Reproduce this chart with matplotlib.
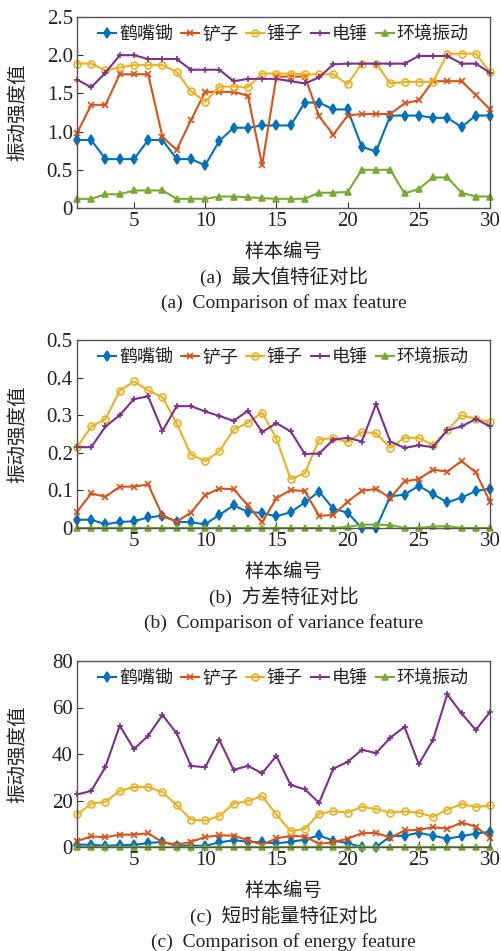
import matplotlib
matplotlib.use("Agg")
import matplotlib.pyplot as plt
import numpy as np

plt.rcParams['font.family'] = ['Liberation Serif', 'Noto Sans CJK SC', 'DejaVu Sans']
plt.rcParams['axes.unicode_minus'] = False

samples = list(range(1, 31))
series_names = ["鹤嘴锄", "铲子", "锤子", "电锤", "环境振动"]

# (a) max feature
max_hoe = [0.89, 0.89, 0.64, 0.64, 0.64, 0.89, 0.89, 0.64, 0.64, 0.56,
           0.88, 1.05, 1.05, 1.08, 1.08, 1.08, 1.38, 1.38, 1.29, 1.29,
           0.80, 0.74, 1.21, 1.21, 1.21, 1.18, 1.18, 1.06, 1.21, 1.21]
max_shovel = [0.98, 1.35, 1.35, 1.75, 1.75, 1.75, 0.93, 0.76, 1.15, 1.52,
              1.52, 1.52, 1.47, 0.56, 1.72, 1.72, 1.72, 1.20, 0.96, 1.21,
              1.23, 1.23, 1.23, 1.37, 1.41, 1.66, 1.66, 1.66, 1.48, 1.29]
max_hammer = [1.89, 1.89, 1.80, 1.84, 1.87, 1.87, 1.87, 1.78, 1.53, 1.39,
              1.59, 1.59, 1.58, 1.76, 1.76, 1.76, 1.75, 1.75, 1.75, 1.62,
              1.89, 1.89, 1.63, 1.65, 1.65, 1.65, 2.02, 2.02, 2.02, 1.78]
max_drill = [1.68, 1.58, 1.77, 2.00, 2.00, 1.95, 1.95, 1.95, 1.81, 1.81,
             1.81, 1.66, 1.69, 1.69, 1.69, 1.66, 1.63, 1.71, 1.88, 1.89,
             1.89, 1.89, 1.89, 1.89, 1.99, 1.99, 1.99, 1.89, 1.89, 1.77]
max_env = [0.12, 0.12, 0.18, 0.18, 0.23, 0.23, 0.23, 0.12, 0.12, 0.12,
           0.15, 0.15, 0.14, 0.13, 0.12, 0.12, 0.12, 0.20, 0.20, 0.21,
           0.50, 0.50, 0.50, 0.19, 0.25, 0.40, 0.40, 0.20, 0.15, 0.15]

# (b) variance feature
var_hoe = [0.022, 0.022, 0.010, 0.016, 0.018, 0.028, 0.033, 0.017, 0.015, 0.010,
           0.035, 0.060, 0.043, 0.040, 0.031, 0.042, 0.068, 0.097, 0.051, 0.041,
           0.000, 0.000, 0.084, 0.089, 0.112, 0.090, 0.068, 0.081, 0.098, 0.105]
var_shovel = [0.043, 0.092, 0.083, 0.110, 0.110, 0.116, 0.032, 0.017, 0.041, 0.087,
              0.105, 0.103, 0.060, 0.015, 0.079, 0.101, 0.098, 0.032, 0.035, 0.070,
              0.099, 0.104, 0.080, 0.124, 0.130, 0.155, 0.150, 0.178, 0.148, 0.070]
var_hammer = [0.215, 0.270, 0.290, 0.365, 0.390, 0.366, 0.348, 0.278, 0.195, 0.178,
              0.204, 0.262, 0.280, 0.307, 0.238, 0.130, 0.145, 0.235, 0.240, 0.228,
              0.255, 0.252, 0.213, 0.240, 0.240, 0.220, 0.260, 0.300, 0.290, 0.282]
var_drill = [0.215, 0.215, 0.270, 0.300, 0.343, 0.350, 0.258, 0.324, 0.324, 0.310,
             0.298, 0.285, 0.312, 0.255, 0.279, 0.257, 0.197, 0.198, 0.235, 0.240,
             0.230, 0.330, 0.230, 0.213, 0.220, 0.215, 0.260, 0.270, 0.290, 0.270]
var_env = [0.0, 0.0, 0.0, 0.0, 0.0, 0.0, 0.0, 0.0, 0.0, 0.0,
           0.0, 0.0, 0.0, 0.0, 0.0, 0.0, 0.0, 0.0, 0.0, 0.003,
           0.009, 0.009, 0.008, 0.0, 0.0, 0.004, 0.005, 0.0, 0.0, 0.0]

# (c) short-time energy feature
en_hoe = [1.0, 1.0, 0.5, 0.8, 0.9, 1.7, 2.2, 0.6, 0.6, 0.5,
          2.0, 2.9, 2.3, 2.0, 1.6, 2.2, 3.2, 5.0, 2.7, 1.7,
          0.0, 0.0, 4.6, 4.9, 6.1, 4.9, 3.6, 4.6, 5.8, 6.5]
en_shovel = [2.5, 4.6, 4.2, 5.3, 5.3, 5.9, 2.0, 1.0, 2.2, 4.3,
             5.0, 4.9, 2.9, 1.0, 3.7, 4.8, 4.5, 1.4, 2.0, 3.6,
             5.9, 6.1, 4.0, 7.1, 7.4, 8.5, 7.9, 10.5, 8.8, 4.0]
en_hammer = [14.0, 18.6, 19.5, 24.1, 25.8, 25.8, 23.6, 18.0, 11.8, 11.4,
             13.3, 18.7, 19.7, 21.9, 14.0, 6.8, 7.8, 14.3, 15.4, 14.8,
             17.3, 16.3, 14.8, 15.3, 14.7, 13.0, 16.0, 18.5, 17.2, 17.9]
en_drill = [22.6, 24.1, 34.5, 52.2, 42.1, 47.9, 56.8, 48.9, 34.9, 34.3,
            46.0, 33.2, 34.9, 31.7, 39.2, 26.7, 24.8, 19.0, 33.7, 36.6,
            41.8, 40.4, 47.0, 51.7, 35.6, 46.1, 65.7, 57.5, 50.3, 58.1]
en_env = [0.1] * 30

panels = [
    dict(data=[max_hoe, max_shovel, max_hammer, max_drill, max_env],
         ylim=(0, 2.5), yticks=[0, 0.5, 1.0, 1.5, 2.0, 2.5],
         yticklabels=["0", "0.5", "1.0", "1.5", "2.0", "2.5"],
         cap_cn="(a)  最大值特征对比", cap_en="(a)  Comparison of max feature",
         rect=(77, 17, 490, 208)),
    dict(data=[var_hoe, var_shovel, var_hammer, var_drill, var_env],
         ylim=(0, 0.5), yticks=[0, 0.1, 0.2, 0.3, 0.4, 0.5],
         yticklabels=["0", "0.1", "0.2", "0.3", "0.4", "0.5"],
         cap_cn="(b)  方差特征对比", cap_en="(b)  Comparison of variance feature",
         rect=(77, 340, 490, 528)),
    dict(data=[en_hoe, en_shovel, en_hammer, en_drill, en_env],
         ylim=(0, 80), yticks=[0, 20, 40, 60, 80],
         yticklabels=["0", "20", "40", "60", "80"],
         cap_cn="(c)  短时能量特征对比", cap_en="(c)  Comparison of energy feature",
         rect=(77, 661, 490, 847)),
]

colors = ["#0072BD", "#D95319", "#EDB120", "#7E2F8E", "#77AC30"]
markers = ["d", "x", "o", "+", "^"]
msizes = [5, 4, 5, 5, 5]
mfcs = [None, None, "none", None, None]

W, H = 501, 951
fig = plt.figure(figsize=(W / 100, H / 100), dpi=100)
FS = 14

for p in panels:
    l, t, r, b = p["rect"]
    ax = fig.add_axes([l / W, 1 - b / H, (r - l) / W, (b - t) / H])
    for name, vals, c, m, ms, mfc in zip(series_names, p["data"], colors, markers, msizes, mfcs):
        kw = dict(color=c, marker=m, markersize=ms, linewidth=1.5, label=name,
                  markeredgewidth=1.2, clip_on=False)
        if mfc is not None:
            kw["markerfacecolor"] = mfc
        ax.plot(samples, vals, **kw)
    ax.set_xlim(1, 30)
    ax.set_ylim(*p["ylim"])
    ax.set_xticks([5, 10, 15, 20, 25, 30])
    ax.set_yticks(p["yticks"])
    ax.set_yticklabels(p["yticklabels"])
    ax.tick_params(direction="in", length=4, width=0.8, labelsize=15, colors="#333333",
                   labelcolor="#222222", pad=3)
    for s in ax.spines.values():
        s.set_color("#555555")
        s.set_linewidth(1.0)
    ax.set_ylabel("振动强度值", fontsize=FS, color="#222222")
    ax.yaxis.set_label_coords((27 - l) / (r - l), 0.5)
    ax.set_xlabel("样本编号", fontsize=FS, labelpad=8, color="#222222")
    leg = ax.legend(loc="upper center", ncol=5, frameon=False, fontsize=13,
                    handlelength=1.0, handletextpad=0.15, columnspacing=0.45,
                    borderaxespad=0.1, bbox_to_anchor=(0.5, 1.0))
    for txt in leg.get_texts():
        txt.set_color("#222222")
    cx = (l + r) / 2 / W
    fig.text(cx, 1 - (b + 69) / H, p["cap_cn"], ha="center", va="center", fontsize=FS, color="#222222")
    fig.text(cx, 1 - (b + 95) / H, p["cap_en"], ha="center", va="center", fontsize=FS, color="#222222")

fig.savefig("out.png", dpi=100)
